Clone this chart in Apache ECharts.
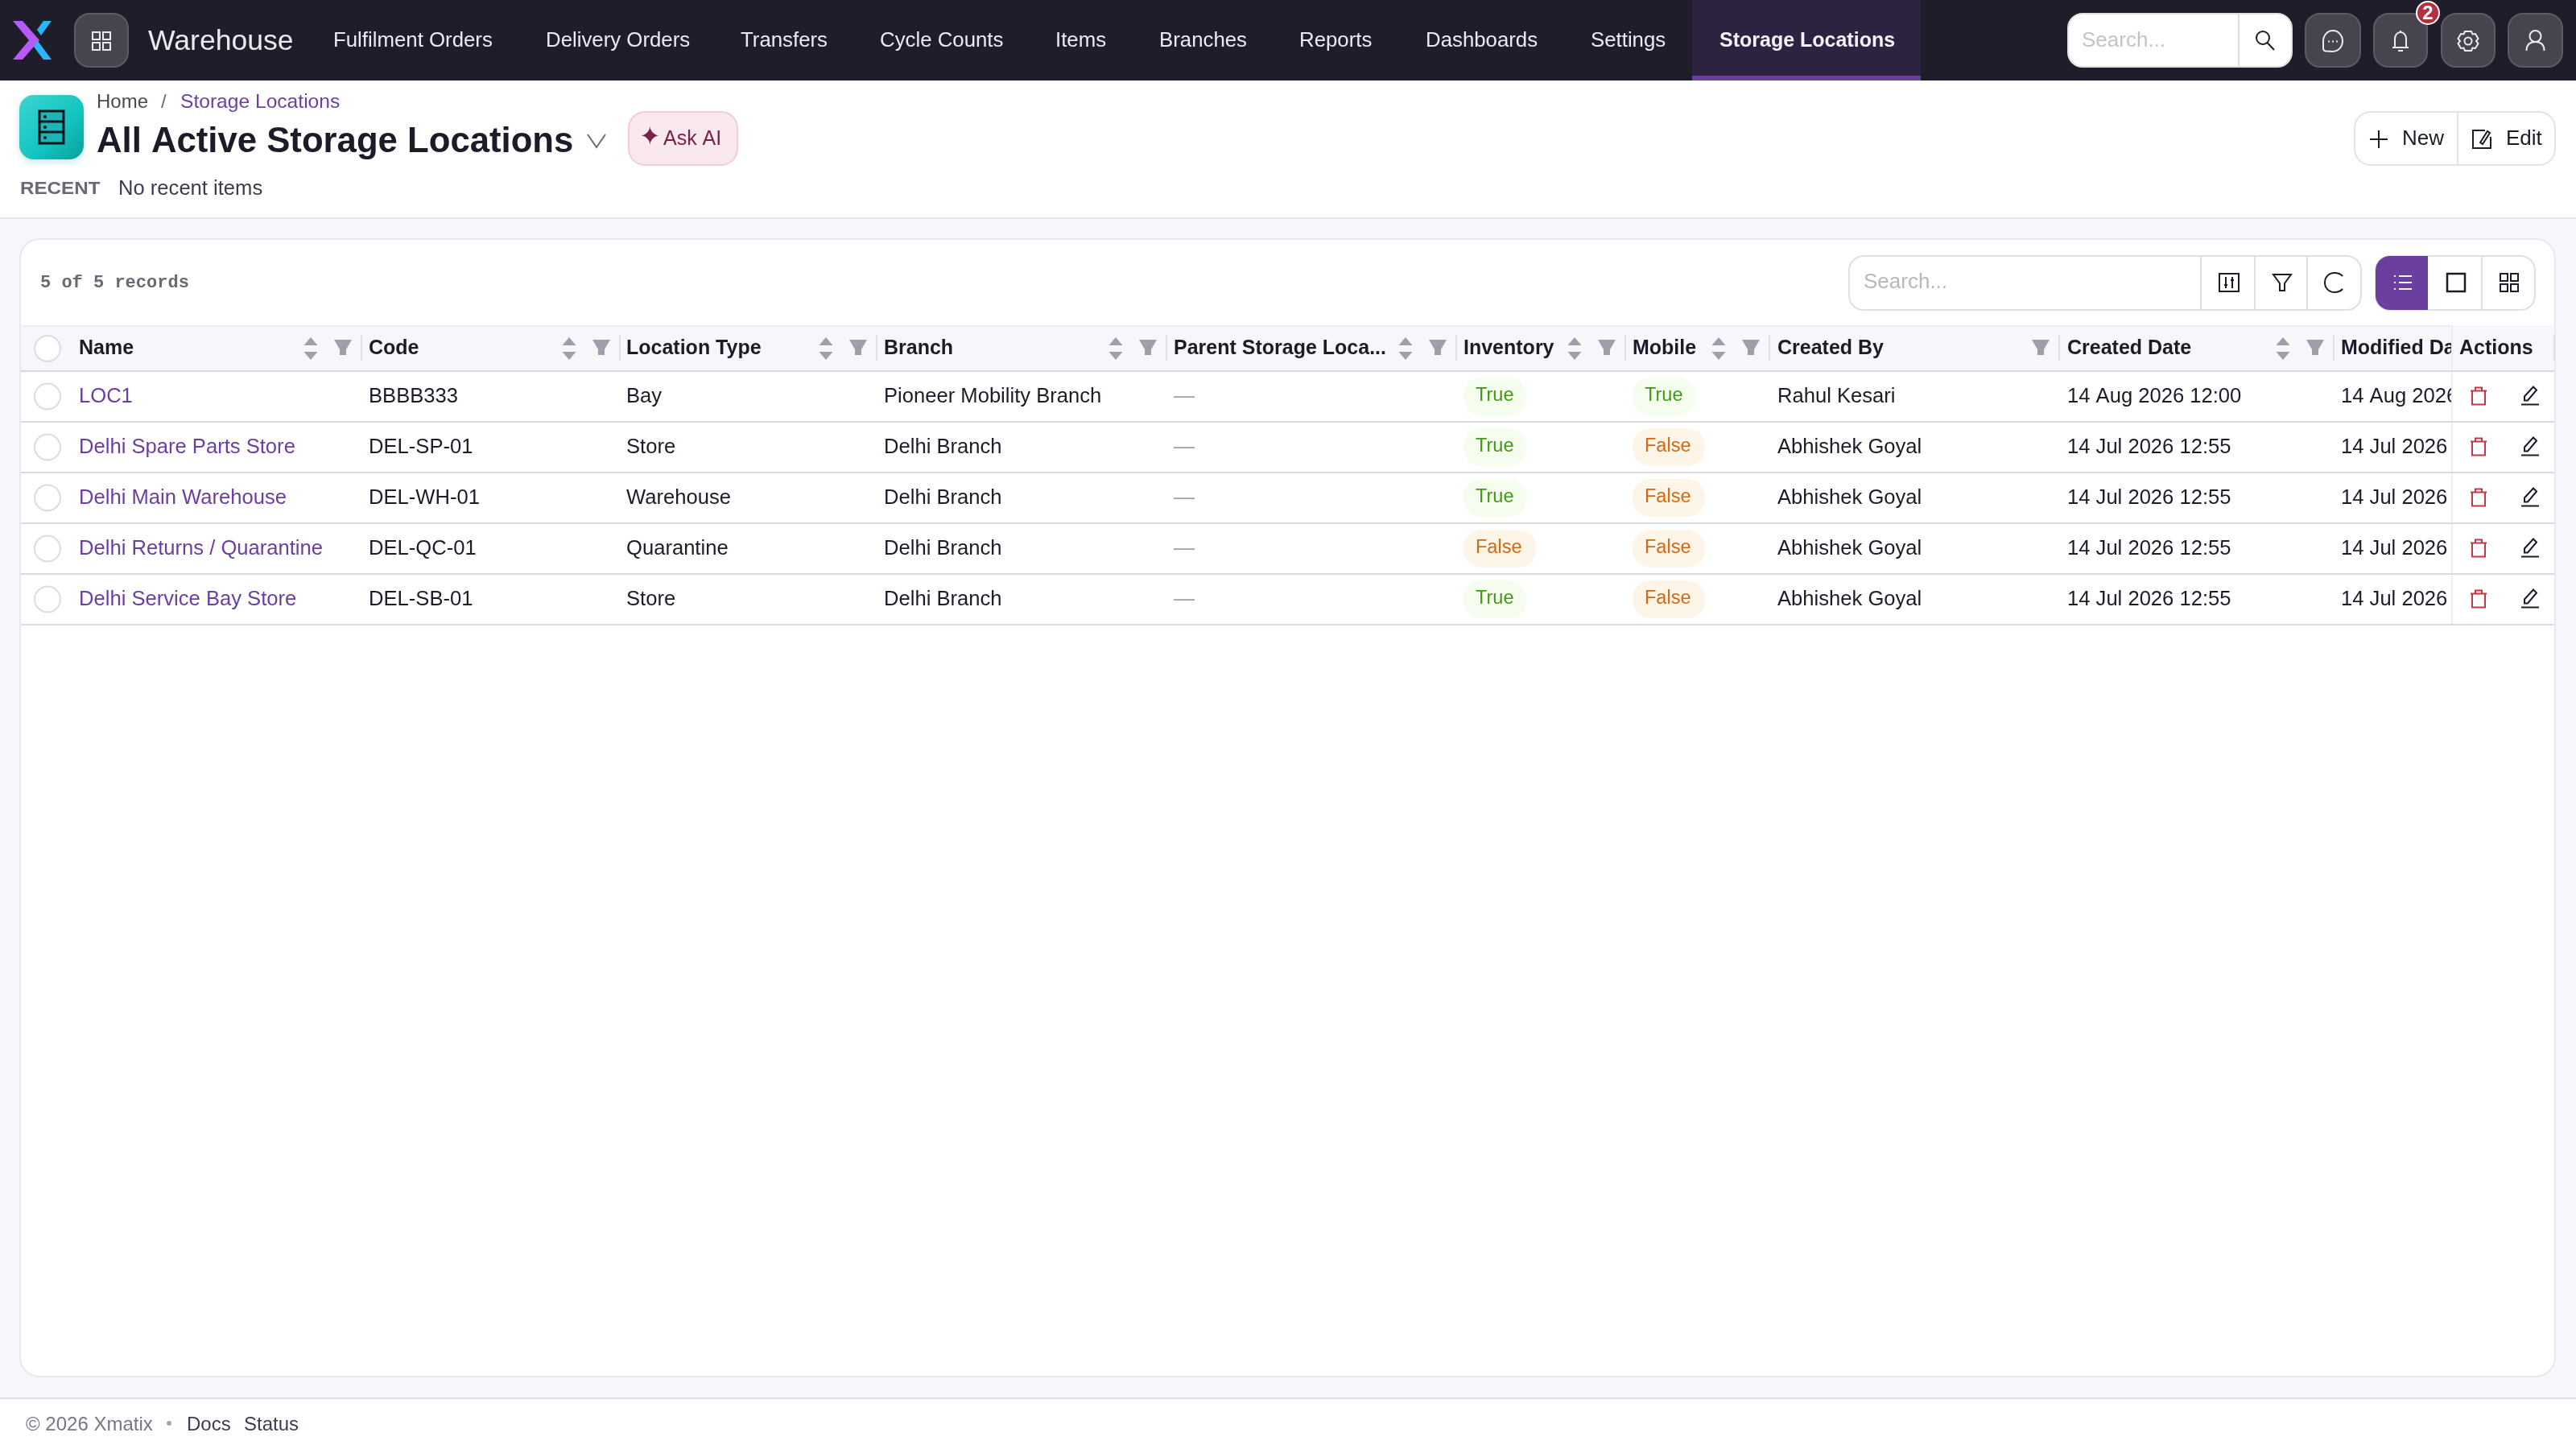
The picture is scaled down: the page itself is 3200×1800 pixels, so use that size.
<!DOCTYPE html>
<html>
<head>
<meta charset="utf-8">
<title>Storage Locations</title>
<style>
    html, body { margin: 0; padding: 0; background: #fff; }
    #main { width: 3200px; height: 1800px; }
</style>
<script src="https://cdn.jsdelivr.net/npm/echarts@6/dist/echarts.min.js"></script>
</head>
<body>
<div id="main"></div>
<script>
// table data
var colNames = ['Name', 'Code', 'Location Type', 'Branch', 'Parent Storage Loca...', 'Inventory', 'Mobile', 'Created By', 'Created Date', 'Modified Date'];
var names = ['LOC1', 'Delhi Spare Parts Store', 'Delhi Main Warehouse', 'Delhi Returns / Quarantine', 'Delhi Service Bay Store'];
var codes = ['BBBB333', 'DEL-SP-01', 'DEL-WH-01', 'DEL-QC-01', 'DEL-SB-01'];
var types = ['Bay', 'Store', 'Warehouse', 'Quarantine', 'Store'];
var branches = ['Pioneer Mobility Branch', 'Delhi Branch', 'Delhi Branch', 'Delhi Branch', 'Delhi Branch'];
var parents = ['—', '—', '—', '—', '—'];
var inventory = ['True', 'True', 'True', 'False', 'True'];
var mobile = ['True', 'False', 'False', 'False', 'False'];
var createdBy = ['Rahul Kesari', 'Abhishek Goyal', 'Abhishek Goyal', 'Abhishek Goyal', 'Abhishek Goyal'];
var createdDate = ['14 Aug 2026 12:00', '14 Jul 2026 12:55', '14 Jul 2026 12:55', '14 Jul 2026 12:55', '14 Jul 2026 12:55'];
var modifiedDate = ['14 Aug 2026 12:00', '14 Jul 2026 12:55', '14 Jul 2026 12:55', '14 Jul 2026 12:55', '14 Jul 2026 12:55'];
var colValues = [names, codes, types, branches, parents, inventory, mobile, createdBy, createdDate, modifiedDate];

var navItems = ['Fulfilment Orders', 'Delivery Orders', 'Transfers', 'Cycle Counts', 'Items', 'Branches', 'Reports', 'Dashboards', 'Settings'];

// layout
var navX = [414, 678, 920, 1093, 1311, 1440, 1614, 1771, 1976];
var colX = [98, 458, 778, 1098, 1458, 1818, 2028, 2208, 2568, 2908];
var dividerX = [449, 770, 1089, 1449, 1809, 2019, 2198, 2558, 2899, 3173];
var noSortCols = [7];
var pillW = {True: 78, False: 90};
var pillColors = {True: ['#f5fdee', '#3f9a10'], False: ['#fdf6e8', '#d4670f']};

var FONT = '"Liberation Sans"';
var INK = '#1e1b29';
var PURPLE = '#6b3fa0';
var NAVTXT = '#ece9f3';
var GREY = '#a19dab';

var ICONS = {
    grid: 'M-11 -11h9v9h-9z M2 -11h9v9h-9z M-11 2h9v9h-9z M2 2h9v9h-9z',
    search: 'M5 -3a8 8 0 1 1 -16 0a8 8 0 1 1 16 0z M2.5 3L11 12',
    chat: 'M-12 0A12 13 0 1 1 0 13L-9 12.5Q-12 12 -12 9Z M-6 0.5h2 M-1 0.5h2 M4 0.5h2',
    bell: 'M0 -13v3 M-7 8V-3a7 8 0 0 1 14 0V8 M-10 8h20 M-3 12h6',
    gear: 'M-4 -12h8l1.5 3.5 3.5-.5 3.5 6-2.5 3 2.5 3-3.5 6-3.5-.5-1.5 3.5h-8l-1.5-3.5-3.5.5-3.5-6 2.5-3-2.5-3 3.5-6 3.5.5z M4.5 0a4.5 4.5 0 1 1 -9 0a4.5 4.5 0 1 1 9 0z',
    user: 'M7 -6a7 7 0 1 1 -14 0a7 7 0 1 1 14 0z M-11 12C-11 4 -6 1 0 1C6 1 11 4 11 12',
    plus: 'M-11 0H11M0 -11V11',
    edit: 'M4 -11H-11V11H11V-3 M-2 4L7 -10L10 -8L1 6Z',
    columns: 'M-12 -11H12V11H-12Z M-4 -7V7 M4 -7V7 M-6 3h4 M2 -3h4',
    funnel: 'M-11 -10H11L3 1V10H-3V1Z',
    refresh: 'M10 -8C7 -11.5 3 -12 0 -12C-7 -12 -12 -7 -12 0C-12 7 -7 12 0 12C3 12 7 11.5 10 8',
    list: 'M-5 -8H11 M-5 0H11 M-5 8H11 M-11 -8h2 M-11 0h2 M-11 8h2',
    square: 'M-11 -11H11V11H-11Z',
    trash: 'M-10 -6H10 M-8 -6V11H8V-6 M-4 -6V-10H4V-6',
    pencil: 'M-11 11H11 M-7 6V1L4 -11L8 -7L-3 6Z',
    cabinet: 'M-15 -20H15V20H-15Z M-15 -7H15 M-15 6H15',
    chevron: 'M-11 -8L0 8L11 -8'
};

function txt(x, y, text, size, fill, weight, family, extra) {
    var style = {
        x: x,
        y: y,
        text: text,
        fill: fill,
        font: (weight || 'normal') + ' ' + size + 'px ' + (family || FONT),
        align: 'left',
        verticalAlign: 'middle'
    };
    if (extra) echarts.util.extend(style, extra);
    return {type: 'text', style: style};
}

function box(x, y, w, h, fill, r, stroke, lw) {
    return {
        type: 'rect',
        shape: {x: x, y: y, width: w, height: h, r: r || 0},
        style: {fill: fill, stroke: stroke || null, lineWidth: lw || 0}
    };
}

function icon(name, cx, cy, stroke, lw, fill) {
    return {
        type: 'path',
        x: cx,
        y: cy,
        shape: {pathData: ICONS[name]},
        style: {fill: fill || 'none', stroke: stroke, lineWidth: lw || 2}
    };
}

function poly(points, fill) {
    return {type: 'polygon', shape: {points: points}, style: {fill: fill}};
}

function dot(cx, cy, r, fill, stroke, lw) {
    return {type: 'circle', shape: {cx: cx, cy: cy, r: r}, style: {fill: fill, stroke: stroke || null, lineWidth: lw || 0}};
}

function darkBtn(x, w, name) {
    return [
        box(x, 17, w, 66, '#47444f', 18, '#5c5a64', 2),
        icon(name, x + w / 2, 51, NAVTXT, 2)
    ];
}

// everything around the table body
function buildChrome() {
    var els = [];
    function add(list) { els = els.concat(list); }

    // page background
    add([
        box(0, 100, 3200, 170, '#ffffff'),
        box(0, 270, 3200, 1467, '#f7f7fb'),
        box(0, 270, 3200, 2, '#e6e4ec'),
        box(0, 1737, 3200, 63, '#ffffff'),
        box(0, 1736, 3200, 2, '#e0dfe8')
    ]);

    // top bar
    add([
        box(0, 0, 3200, 100, '#201d2b'),
        box(2102, 0, 284, 100, '#2d2340'),
        box(2102, 94, 284, 6, PURPLE),
        poly([[16, 26], [28, 26], [49, 50], [28, 74], [16, 74], [36, 50]], '#b45cf5'),
        poly([[54, 26], [64, 26], [51, 44], [46, 37]], '#2bb5ff'),
        poly([[42, 58], [47, 51], [64, 74], [54, 74]], '#2bb5ff'),
        txt(184, 52, 'Warehouse', 35.6, NAVTXT)
    ]);
    add(darkBtn(93, 66, 'grid'));
    navItems.forEach(function (item, i) {
        els.push(txt(navX[i], 51, item, 25.8, NAVTXT));
    });
    els.push(txt(2136, 51, 'Storage Locations', 25, '#f4f1f8', 'bold'));

    add([
        box(2569, 17, 278, 66, '#ffffff', 18, '#e0e0e0', 2),
        box(2780, 17, 2, 66, '#dcdce4'),
        txt(2586, 51, 'Search...', 26, '#c4c4c4'),
        icon('search', 2814, 50, INK, 2)
    ]);
    add(darkBtn(2864, 68, 'chat'));
    add(darkBtn(2949, 66, 'bell'));
    add(darkBtn(3033, 66, 'gear'));
    add(darkBtn(3116, 67, 'user'));
    add([
        dot(3016, 16, 14, '#b3303f', '#ffffff', 2),
        txt(3016, 17, '2', 24, '#ffffff', 'bold', FONT, {align: 'center'})
    ]);

    // page header
    var teal = new echarts.graphic.LinearGradient(0, 0, 1, 1, [
        {offset: 0, color: '#3dd3d0'},
        {offset: 0.6, color: '#12c4c0'},
        {offset: 1, color: '#0a9e9a'}
    ]);
    var tile = box(24, 118, 80, 80, teal, 18);
    tile.style.shadowBlur = 8;
    tile.style.shadowColor = 'rgba(20,160,160,0.25)';
    tile.style.shadowOffsetY = 3;
    els.push(tile);

    var recent = txt(25, 235, 'RECENT', 22, '#6b6775', 'bold');
    recent.scaleX = 1.1;
    recent.originX = 25;

    add([
        icon('cabinet', 64, 158, '#14161c', 3, '#1bb5b8'),
        dot(56, 145, 2, '#14161c'),
        dot(56, 158, 2, '#14161c'),
        dot(56, 171, 2, '#14161c'),
        txt(120, 127, 'Home', 24, '#4b4754'),
        txt(200, 127, '/', 24, '#6e6a78'),
        txt(224, 127, 'Storage Locations', 24.6, PURPLE),
        txt(120, 177, 'All Active Storage Locations', 43.7, INK, 'bold'),
        icon('chevron', 741, 175, '#6e6a78', 2),
        box(781, 139, 135, 66, '#f9e8ee', 20, '#f0cdd9', 2),
        txt(794, 172, '✦', 32, '#7b2048', 'normal', '"DejaVu Sans"'),
        txt(824, 173, 'Ask AI', 25, '#7b2048'),
        recent,
        txt(147, 235, 'No recent items', 25.6, '#3f3b4a'),
        box(2925, 139, 249, 66, '#ffffff', 20, '#e2e1ea', 2),
        box(3052, 139, 2, 66, '#e2e1ea'),
        icon('plus', 2955, 173, INK, 2),
        txt(2984, 173, 'New', 26, INK),
        icon('edit', 3083, 173, INK, 2),
        txt(3113, 173, 'Edit', 26, INK)
    ]);

    // card and its toolbar
    add([
        box(25, 297, 3149, 1413, '#ffffff', 24, '#e9e8f0', 2),
        txt(50, 351, '5 of 5 records', 22, '#6b6775', 'bold', '"Liberation Mono"'),
        box(2297, 318, 636, 67, '#ffffff', 18, '#e0dfe8', 2),
        box(2733, 318, 2, 67, '#e0dfe8'),
        box(2800, 318, 2, 67, '#e0dfe8'),
        box(2865, 318, 2, 67, '#e0dfe8'),
        txt(2315, 351, 'Search...', 26, '#b8b8b8'),
        icon('columns', 2769, 351, INK, 2),
        icon('funnel', 2835, 351, INK, 2),
        icon('refresh', 2900, 351, INK, 2),
        box(2951, 318, 198, 67, '#ffffff', 18, '#e0dfe8', 2),
        box(2951, 318, 65, 67, PURPLE, [18, 0, 0, 18]),
        box(3082, 318, 2, 67, '#e0dfe8'),
        icon('list', 2985, 351, '#ffffff', 2),
        icon('square', 3051, 351, INK, 2.5),
        icon('grid', 3117, 351, INK, 2)
    ]);

    // table header
    add([
        box(26, 404, 3147, 58, '#f7f7fb'),
        box(26, 404, 3147, 2, '#eeeef3'),
        dot(59, 433, 16, '#ffffff', '#dcdce4', 2)
    ]);
    colNames.forEach(function (name, i) {
        els.push(txt(colX[i], 433, name, 25, INK, 'bold'));
        if (i < 9) {
            var d = dividerX[i];
            els.push(box(d - 1, 416, 2, 32, '#e0e0e6'));
            if (noSortCols.indexOf(i) < 0) {
                els.push(poly([[d - 63, 419], [d - 71.5, 429], [d - 54.5, 429]], GREY));
                els.push(poly([[d - 71.5, 437], [d - 54.5, 437], [d - 63, 447]], GREY));
            }
            els.push(poly([[d - 34, 422], [d - 12, 422], [d - 19, 434], [d - 27, 434]], GREY));
            els.push(box(d - 27, 434, 8, 7, GREY));
        }
    });
    // frozen actions column head
    add([
        box(3046, 404, 127, 58, '#f7f7fb'),
        box(3045, 404, 2, 58, '#eeeef2'),
        txt(3055, 433, 'Actions', 25, INK, 'bold'),
        box(3172, 416, 2, 32, '#e0e0e6'),
        box(26, 460, 3147, 2, '#d9d9de')
    ]);

    // footer
    add([
        txt(32, 1770, '© 2026 Xmatix', 24, '#7a7584'),
        dot(210, 1768, 3, '#a9a6b2'),
        txt(232, 1770, 'Docs', 24, '#3f3a50'),
        txt(303, 1770, 'Status', 24, '#3f3a50')
    ]);
    return els;
}

function renderChrome() {
    return {type: 'group', children: buildChrome()};
}

// one table row, placed through the axes
function renderRow(params, api) {
    var row = api.value(1);
    var cy = api.coord([0, row])[1];
    var band = api.size([0, 1])[1];
    var top = cy - band / 2;
    var kids = [dot(59, cy, 16, '#ffffff', '#dcdce4', 2)];

    colValues.forEach(function (values, c) {
        var v = values[row];
        var x = colX[c];
        if (pillW[v]) {
            kids.push(box(x, cy - 23.5, pillW[v], 47, pillColors[v][0], 22));
            kids.push(txt(x + 15, cy - 1, v, 23.5, pillColors[v][1]));
        } else if (c === 4) {
            kids.push(txt(x, cy, v, 26, '#a19ea9'));
        } else {
            kids.push(txt(x, cy, v, 25.6, c === 0 ? PURPLE : INK));
        }
    });

    // frozen actions column covers the end of the last column
    kids.push(box(3046, top + 1, 126, band - 1, '#ffffff'));
    kids.push(box(3045, top + 1, 2, band - 1, '#eeeef2'));
    kids.push(icon('trash', 3079, cy - 1, '#c0394b', 2));
    kids.push(icon('pencil', 3143, cy - 1, INK, 2));
    kids.push(box(26, top + band - 1, 3147, 2, '#d9d9de'));

    return {type: 'group', children: kids};
}

var myChart = echarts.init(document.getElementById('main'));

var option = {
    backgroundColor: '#ffffff',
    animation: false,
    tooltip: {show: false},
    grid: {left: 25, top: 461, width: 3149, height: 315},
    xAxis: {type: 'value', min: 0, max: 3149, show: false},
    yAxis: {type: 'category', inverse: true, show: false, data: names},
    series: [
        {
            type: 'custom',
            name: 'chrome',
            coordinateSystem: 'none',
            silent: true,
            z: 1,
            data: [[0]],
            renderItem: renderChrome
        },
        {
            type: 'custom',
            name: 'rows',
            silent: true,
            z: 2,
            clip: false,
            encode: {x: 0, y: 1},
            data: names.map(function (n, i) { return [0, i]; }),
            renderItem: renderRow
        }
    ]
};

myChart.setOption(option);
window.onresize = myChart.resize;
</script>
</body>
</html>
